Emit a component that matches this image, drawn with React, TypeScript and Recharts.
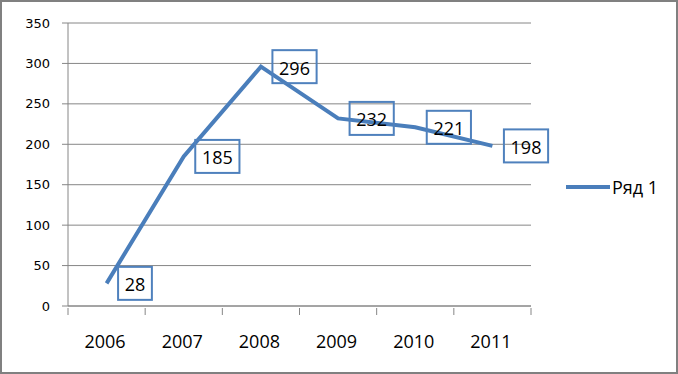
import { CartesianGrid, LabelList, Line, LineChart, XAxis, YAxis } from "recharts";

const years = ["2006", "2007", "2008", "2009", "2010", "2011"];
const values = [28, 185, 296, 232, 221, 198];
const yTicks = [0, 50, 100, 150, 200, 250, 300, 350];
const seriesName = "Ряд 1";

const data = years.map((year, i) => ({ year, value: values[i] }));

const blue = "#4A7EBB";
const grey = "#868686";
const labelFont = "'Open Sans', 'Noto Sans', sans-serif";
const chartW = 678;
const margin = { top: 23, right: 147, left: 8, bottom: 28 };
const yAxisW = 60;
const half = (chartW - margin.left - margin.right - yAxisW) / years.length / 2;

function YearTick(props: any) {
  const { x, y, payload, index } = props;
  const last = index === years.length - 1;
  return (
    <g>
      <line x1={x - half} y1={y} x2={x - half} y2={y + 7} stroke={grey} />
      {last && <line x1={x + half} y1={y} x2={x + half} y2={y + 7} stroke={grey} />}
      <text x={x - 1.5} y={y + 27} dy="0.71em" textAnchor="middle" fontSize={18} fontFamily={labelFont} fill="#000">
        {payload.value}
      </text>
    </g>
  );
}

function BoxLabel(props: any) {
  const { x, y, value } = props;
  const text = String(value);
  const w = text.length * 10.4 + 13;
  const h = 33;
  const left = x + 11.5;
  return (
    <g>
      <rect x={left} y={y - h / 2} width={w} height={h} fill="none" stroke="#4F81BD" strokeWidth={2} />
      <text x={left + w / 2} y={y + 1} textAnchor="middle" dominantBaseline="central" fontSize={18} fontFamily={labelFont} fill="#000">
        {text}
      </text>
    </g>
  );
}

export default function App() {
  return (
    <div style={{ position: "absolute", left: 0, top: 0, width: 678, height: 374, background: "#fff" }}>
      <LineChart width={chartW} height={374} data={data} margin={margin}>
        <CartesianGrid horizontal vertical={false} stroke={grey} />
        <XAxis
          dataKey="year"
          scale="band"
          height={40}
          axisLine={{ stroke: grey }}
          tickLine={false}
          tickSize={0}
          tick={<YearTick />}
          interval={0}
        />
        <YAxis
          width={yAxisW}
          domain={[0, 350]}
          ticks={yTicks}
          axisLine={{ stroke: grey }}
          tickLine={{ stroke: grey }}
          tickSize={6}
          tickMargin={12}
          tick={{ fill: "#000", fontSize: 13, fontFamily: "'DejaVu Sans', sans-serif" }}
        />
        <Line
          type="linear"
          dataKey="value"
          name={seriesName}
          stroke={blue}
          strokeWidth={4}
          dot={false}
          activeDot={false}
          isAnimationActive={false}
        >
          <LabelList dataKey="value" content={BoxLabel} />
        </Line>
      </LineChart>
      <div
        style={{
          position: "absolute",
          left: 566,
          top: 175,
          display: "flex",
          alignItems: "center",
          fontFamily: labelFont,
          fontSize: 18,
          color: "#000",
        }}
      >
        <svg width={46} height={8} style={{ display: "block" }}>
          <line x1={0} y1={4} x2={44} y2={4} stroke={blue} strokeWidth={4} />
        </svg>
        <span style={{ lineHeight: "24px" }}>{seriesName}</span>
      </div>
      <div
        style={{
          position: "absolute",
          left: 0,
          top: 0,
          width: 678,
          height: 374,
          boxSizing: "border-box",
          border: "2px solid #808080",
          pointerEvents: "none",
        }}
      />
    </div>
  );
}
